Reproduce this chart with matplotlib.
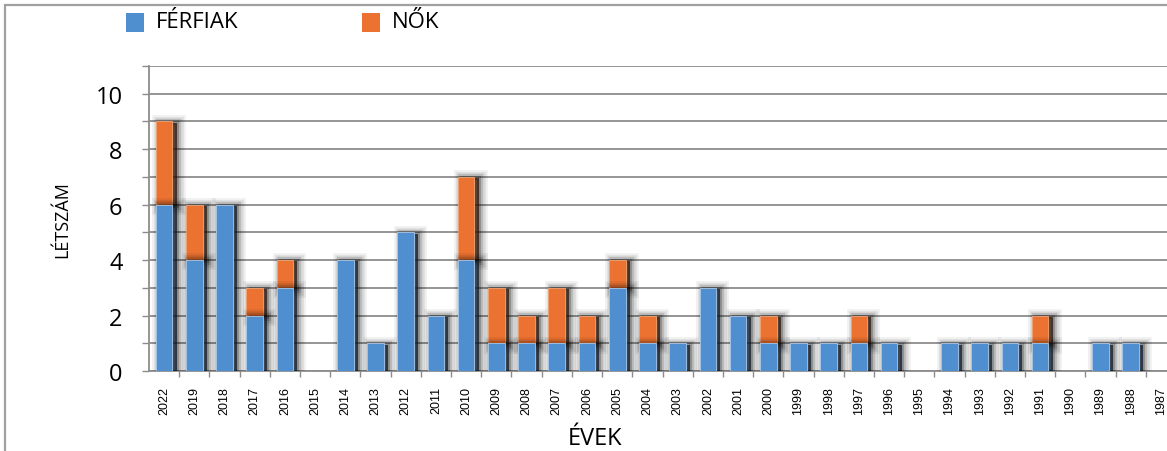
import matplotlib
matplotlib.use("Agg")
import matplotlib.pyplot as plt
import matplotlib.patheffects as pe
from matplotlib.patches import Rectangle
import numpy as np

years = ["2022", "2019", "2018", "2017", "2016", "2015", "2014", "2013", "2012", "2011",
         "2010", "2009", "2008", "2007", "2006", "2005", "2004", "2003", "2002", "2001",
         "2000", "1999", "1998", "1997", "1996", "1995", "1994", "1993", "1992", "1991",
         "1990", "1989", "1988", "1987"]
ferfiak = [6, 4, 6, 2, 3, 0, 4, 1, 5, 2,
           4, 1, 1, 1, 1, 3, 1, 1, 3, 2,
           1, 1, 1, 1, 1, 0, 1, 1, 1, 1,
           0, 1, 1, 0]
nok = [3, 2, 0, 1, 1, 0, 0, 0, 0, 0,
       3, 2, 1, 2, 1, 1, 1, 0, 0, 0,
       1, 0, 0, 1, 0, 0, 0, 0, 0, 1,
       0, 0, 0, 0]
series_names = ["FÉRFIAK", "NŐK"]
y_ticks = [0, 2, 4, 6, 8, 10]

BLUE = "#4F8FD0"
ORANGE = "#EB7231"
GRID = "#8C8C8C"
FONT = ["Open Sans", "DejaVu Sans"]

W, H = 1167, 452
fig = plt.figure(figsize=(W / 100, H / 100), dpi=100)
fig.patch.set_facecolor("white")

# outer frame
fig.patches.append(Rectangle((5 / W, -0.1), 1.2, (H - 6) / H + 0.1, transform=fig.transFigure,
                             fill=False, edgecolor="#A0A0A0", linewidth=1.6))

ax = fig.add_axes([149 / W, (H - 372) / H, 1 - 149 / W, (372 - 67) / H])
x = np.arange(len(years))
wbar = 0.55

shadow = [
    pe.Stroke(offset=(3, -1), linewidth=12, foreground="black", alpha=0.06),
    pe.Stroke(offset=(3, -1), linewidth=9, foreground="black", alpha=0.09),
    pe.Stroke(offset=(3, -1), linewidth=6, foreground="black", alpha=0.14),
    pe.Stroke(offset=(3, -1), linewidth=3, foreground="black", alpha=0.22),
    pe.SimplePatchShadow(offset=(3, -1), shadow_rgbFace="black", alpha=0.55),
    pe.Normal(),
]

b2 = ax.bar(x, nok, wbar, bottom=ferfiak, color=ORANGE, edgecolor="#F4A574", linewidth=0.6,
            zorder=2, label=series_names[1])
b1 = ax.bar(x, ferfiak, wbar, color=BLUE, edgecolor="#A9C9EC", linewidth=0.6,
            zorder=3, label=series_names[0])
for bars, vals in ((b2, nok), (b1, ferfiak)):
    for r, v in zip(bars, vals):
        if v > 0:
            r.set_path_effects(shadow)

ax.set_xlim(-0.5, 33.2)
ax.set_ylim(0, 11)
ax.set_yticks(y_ticks)
ax.set_yticks(np.arange(1, 12, 2), minor=True)
ax.yaxis.grid(True, which="both", color=GRID, linewidth=1.3, zorder=0)
ax.set_axisbelow(True)
ax.set_yticklabels([str(t) for t in y_ticks], fontsize=17, family=FONT)
ax.tick_params(axis="y", which="both", direction="out", length=5, color=GRID, width=1.0, pad=14)

ax.set_xticks(x)
ax.set_xticklabels(years, rotation=90, fontsize=9, family=["Liberation Sans", "DejaVu Sans"])
ax.set_xticks(np.arange(0.5, 33.5, 1), minor=True)
ax.tick_params(axis="x", which="major", length=0, pad=11)
ax.tick_params(axis="x", which="minor", direction="out", length=4, color=GRID, width=1.0)

for s in ("top", "right"):
    ax.spines[s].set_visible(False)
ax.spines["left"].set_color(GRID)
ax.spines["left"].set_linewidth(1.3)
ax.spines["bottom"].set_color(GRID)
ax.spines["bottom"].set_linewidth(1.3)

fig.text(62 / W, 1 - 220 / H, "LÉTSZÁM", rotation=90, ha="center", va="center",
         fontsize=13, family=FONT)
fig.text(595 / W, 1 - 439 / H, "ÉVEK", ha="center", va="center", fontsize=17, family=FONT)

# legend
for px, col, name in ((126, BLUE, series_names[0]), (362, ORANGE, series_names[1])):
    fig.patches.append(Rectangle((px / W, 1 - 33 / H), 18 / W, 19 / H, transform=fig.transFigure,
                                 facecolor=col, edgecolor="none"))
    fig.text((px + 30) / W, 1 - 23 / H, name, ha="left", va="center", fontsize=16, family=FONT)

fig.savefig("out.png", dpi=100)
